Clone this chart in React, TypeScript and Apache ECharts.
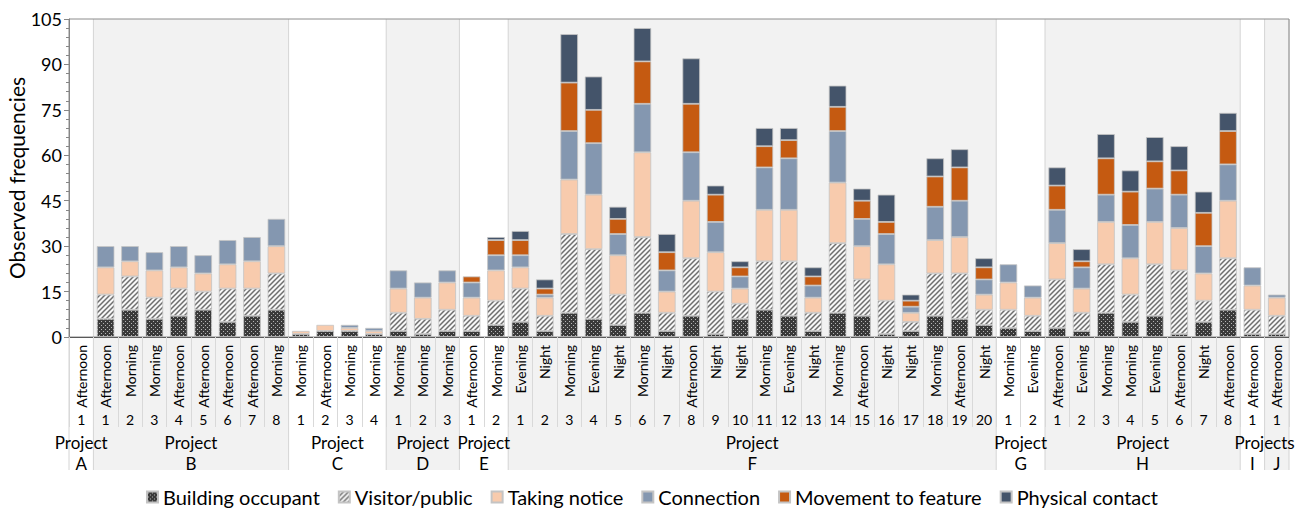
import React, { useEffect, useRef } from "react";
import * as echarts from "echarts";

const timeLabels = [
  "Afternoon",
  "Afternoon", "Morning", "Morning", "Afternoon", "Afternoon", "Afternoon", "Afternoon", "Morning",
  "Morning", "Afternoon", "Morning", "Morning",
  "Morning", "Morning", "Morning",
  "Afternoon", "Morning",
  "Evening", "Night", "Morning", "Evening", "Night", "Morning", "Night", "Afternoon", "Night", "Night",
  "Morning", "Evening", "Night", "Morning", "Afternoon", "Night", "Night", "Morning", "Afternoon", "Night",
  "Morning", "Evening",
  "Afternoon", "Evening", "Morning", "Morning", "Evening", "Afternoon", "Night", "Afternoon",
  "Afternoon",
  "Afternoon",
];
const numLabels = [
  "1",
  "1", "2", "3", "4", "5", "6", "7", "8",
  "1", "2", "3", "4",
  "1", "2", "3",
  "1", "2",
  "1", "2", "3", "4", "5", "6", "7", "8", "9", "10", "11", "12", "13", "14", "15", "16", "17", "18", "19", "20",
  "1", "2",
  "1", "2", "3", "4", "5", "6", "7", "8",
  "1",
  "1",
];
const groupLetters = ["A", "B", "C", "D", "E", "F", "G", "H", "I", "J"];
const groupSizes = [1, 8, 4, 3, 2, 20, 2, 8, 1, 1];
const groupShaded = [false, true, false, true, false, true, false, true, false, true];

const seriesNames = ["Building occupant", "Visitor/public", "Taking notice", "Connection", "Movement to feature", "Physical contact"];

const buildingOccupant = [
  null,
  6, 9, 6, 7, 9, 5, 7, 9,
  1, 2, 2, 1,
  2, 1, 2,
  2, 4,
  5, 2, 8, 6, 4, 8, 2, 7, 1, 6, 9, 7, 2, 8, 7, 1, 2, 7, 6, 4,
  3, 2,
  3, 2, 8, 5, 7, 1, 5, 9,
  1,
  1,
];
const visitorPublic = [
  null,
  8, 11, 7, 9, 6, 11, 9, 12,
  0, 0, 0, 0,
  6, 5, 7,
  5, 8,
  11, 5, 26, 23, 10, 25, 6, 19, 14, 5, 16, 18, 6, 23, 12, 11, 3, 14, 15, 5,
  6, 5,
  16, 6, 16, 9, 17, 21, 7, 17,
  8,
  6,
];
const takingNotice = [
  null,
  9, 5, 9, 7, 6, 8, 9, 9,
  1, 2, 1, 1,
  8, 7, 9,
  6, 10,
  7, 6, 18, 18, 13, 28, 7, 19, 13, 5, 17, 17, 5, 20, 11, 12, 3, 11, 12, 5,
  9, 6,
  12, 8, 14, 12, 14, 14, 9, 19,
  8,
  6,
];
const connection = [
  null,
  7, 5, 6, 7, 6, 8, 8, 9,
  0, 0, 1, 1,
  6, 5, 4,
  5, 5,
  4, 1, 16, 17, 7, 16, 7, 16, 10, 4, 14, 17, 4, 17, 9, 10, 2, 11, 12, 5,
  6, 4,
  11, 7, 9, 11, 11, 11, 9, 12,
  6,
  1,
];
const movementToFeature = [
  null,
  0, 0, 0, 0, 0, 0, 0, 0,
  0, 0, 0, 0,
  0, 0, 0,
  2, 5,
  5, 2, 16, 11, 5, 14, 6, 16, 9, 3, 7, 6, 3, 8, 6, 4, 2, 10, 11, 4,
  0, 0,
  8, 2, 12, 11, 9, 8, 11, 11,
  0,
  0,
];
const physicalContact = [
  null,
  0, 0, 0, 0, 0, 0, 0, 0,
  0, 0, 0, 0,
  0, 0, 0,
  0, 1,
  3, 3, 16, 11, 4, 11, 6, 15, 3, 2, 6, 4, 3, 7, 4, 9, 2, 6, 6, 3,
  0, 0,
  6, 4, 8, 7, 8, 8, 7, 6,
  0,
  0,
];

const yTicks = { min: 0, max: 105, interval: 15 };

const FONT = "Lato";

function makeOccupantPattern() {
  const c = document.createElement("canvas");
  c.width = 4;
  c.height = 4;
  const ctx = c.getContext("2d")!;
  ctx.fillStyle = "#3a3a3a";
  ctx.fillRect(0, 0, 4, 4);
  ctx.fillStyle = "#b5b5b5";
  ctx.fillRect(1, 1, 1, 1);
  ctx.fillRect(3, 3, 1, 1);
  return { image: c, repeat: "repeat" };
}

function makeVisitorPattern() {
  const c = document.createElement("canvas");
  const s = 5;
  c.width = s;
  c.height = s;
  const ctx = c.getContext("2d")!;
  ctx.fillStyle = "#f7f7f7";
  ctx.fillRect(0, 0, s, s);
  ctx.strokeStyle = "#6e6e6e";
  ctx.lineWidth = 1.5;
  ctx.beginPath();
  ctx.moveTo(0, s);
  ctx.lineTo(s, 0);
  ctx.moveTo(-1, 1);
  ctx.lineTo(1, -1);
  ctx.moveTo(s - 1, s + 1);
  ctx.lineTo(s + 1, s - 1);
  ctx.stroke();
  return { image: c, repeat: "repeat" };
}

export default function App() {
  const ref = useRef<HTMLDivElement>(null);

  useEffect(() => {
    const el = ref.current;
    if (!el) return;
    const chart = echarts.init(el, null, { renderer: "svg" });

    const colors: any[] = [
      makeOccupantPattern(),
      makeVisitorPattern(),
      "#F8CBAD",
      "#8497B0",
      "#C55A11",
      "#44546A",
    ];
    const allData = [buildingOccupant, visitorPublic, takingNotice, connection, movementToFeature, physicalContact];

    const series = seriesNames.map((name, i) => ({
      name,
      type: "bar",
      stack: "total",
      barWidth: "72%",
      xAxisIndex: 0,
      yAxisIndex: 0,
      itemStyle: { color: colors[i], borderColor: "#c4c4c4", borderWidth: 0.8 },
      data: allData[i].map((v) => (v === null || v === 0 ? "-" : v)),
    }));

    const option: any = {
      animation: false,
      textStyle: { fontFamily: FONT },
      grid: {
        left: 69,
        right: 15,
        top: 19,
        bottom: 177,
        outerBoundsMode: "none",
        containLabel: false,
        show: true,
        borderColor: "#8c8c8c",
        borderWidth: 1,
        backgroundColor: "transparent",
      },
      legend: {
        top: 482,
        left: "center",
        itemWidth: 11,
        itemHeight: 11,
        itemGap: 18,
        icon: "rect",
        textStyle: { fontSize: 20, color: "#000", fontFamily: FONT },
        data: seriesNames,
      },
      xAxis: [
        {
          type: "category",
          data: timeLabels,
          position: "bottom",
          axisLine: { show: true, lineStyle: { color: "#595959", width: 1 } },
          axisTick: { show: true, interval: 0, length: 90, lineStyle: { color: "#d9d9d9" } },
          axisLabel: { interval: 0, rotate: 90, fontSize: 14, color: "#000", margin: 8, fontFamily: FONT },
          splitLine: { show: false },
        },
        {
          type: "category",
          data: numLabels,
          position: "bottom",
          offset: 75,
          axisLine: { show: false },
          axisTick: { show: false },
          axisLabel: { interval: 0, fontSize: 14, color: "#000", margin: 0, fontFamily: FONT },
        },
      ],
      yAxis: {
        type: "value",
        min: yTicks.min,
        max: yTicks.max,
        interval: yTicks.interval,
        name: "Observed frequencies",
        nameLocation: "middle",
        nameGap: 42,
        nameMoveOverlap: false,
        nameTextStyle: { fontSize: 21, color: "#000", fontFamily: FONT },
        axisLine: { show: true, lineStyle: { color: "#868686" } },
        axisTick: { show: true, length: 5, lineStyle: { color: "#868686" } },
        minorTick: { show: true, splitNumber: 5, length: 3, lineStyle: { color: "#868686" } },
        splitLine: { show: false },
        axisLabel: { fontSize: 18, color: "#000", margin: 7, fontFamily: FONT },
      },
      series,
    };

    chart.setOption(option);

    // derive label-area geometry from the axes
    const c0 = chart.convertToPixel({ xAxisIndex: 0 }, 0) as number;
    const c1 = chart.convertToPixel({ xAxisIndex: 0 }, 1) as number;
    const w = c1 - c0;
    const leftEdge = c0 - w / 2;
    const plotTop = chart.convertToPixel({ yAxisIndex: 0 }, yTicks.max) as number;
    const plotBottom = chart.convertToPixel({ yAxisIndex: 0 }, yTicks.min) as number;
    const tableBottom = plotBottom + 133;

    const graphics: any[] = [];
    let start = 0;
    groupLetters.forEach((g, gi) => {
      const n = groupSizes[gi];
      const xs = leftEdge + start * w;
      const xe = leftEdge + (start + n) * w;
      const cx = (xs + xe) / 2;
      if (groupShaded[gi]) {
        graphics.push({
          type: "rect",
          z: -10,
          silent: true,
          shape: { x: xs, y: plotTop, width: xe - xs, height: tableBottom - plotTop },
          style: { fill: "#f2f2f2" },
        });
      }
      graphics.push({
        type: "line",
        z: -5,
        silent: true,
        shape: { x1: xs, y1: gi === 0 ? plotBottom : plotTop, x2: xs, y2: tableBottom },
        style: { stroke: "#d4d4d4", lineWidth: 1 },
      });
      if (gi === groupLetters.length - 1) {
        graphics.push({
          type: "line",
          z: -5,
          silent: true,
          shape: { x1: xe, y1: plotTop, x2: xe, y2: tableBottom },
          style: { stroke: "#d4d4d4", lineWidth: 1 },
        });
      }
      let projText = "Project";
      let projX = cx;
      if (g === "I") {
        projText = "Projects";
        projX = xe;
      }
      if (g !== "J") {
        graphics.push({
          type: "text",
          silent: true,
          x: projX,
          y: plotBottom + 105,
          style: {
            text: projText,
            fill: "#000",
            font: `17px ${FONT}`,
            textAlign: "center",
            textVerticalAlign: "middle",
            align: "center",
            verticalAlign: "middle",
          },
        });
      }
      graphics.push({
        type: "text",
        silent: true,
        x: cx,
        y: plotBottom + 126,
        style: {
          text: g,
          fill: "#000",
          font: `17px ${FONT}`,
          textAlign: "center",
          textVerticalAlign: "middle",
          align: "center",
          verticalAlign: "middle",
        },
      });
      start += n;
    });

    chart.setOption({ graphic: { elements: graphics } });

    return () => {
      chart.dispose();
    };
  }, []);

  return (
    <div
      ref={ref}
      style={{ position: "fixed", left: 0, top: 0, width: 1304, height: 514, background: "#fff" }}
    />
  );
}
